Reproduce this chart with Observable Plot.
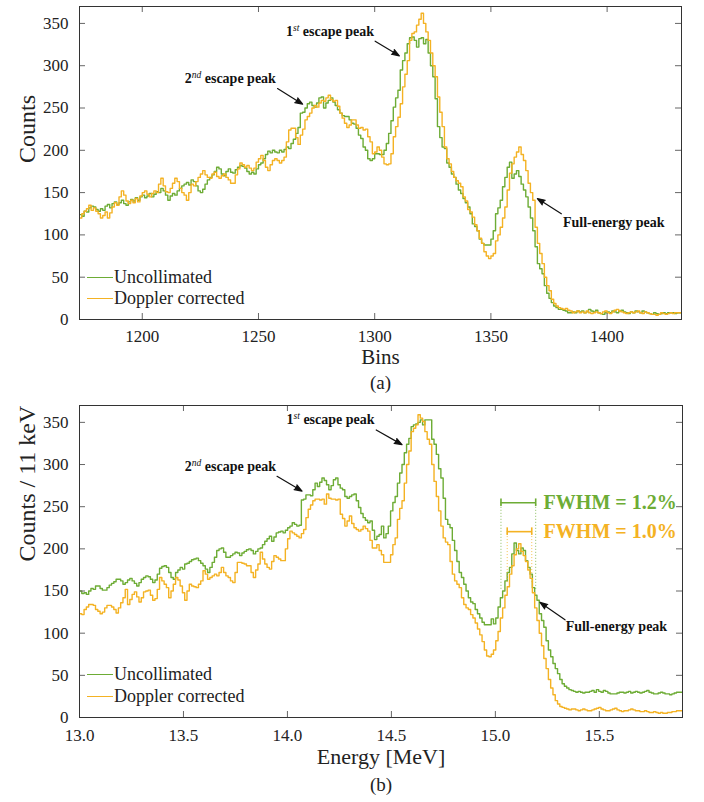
<!DOCTYPE html>
<html><head><meta charset="utf-8">
<script src="https://cdn.jsdelivr.net/npm/d3@7"></script>
<script src="https://cdn.jsdelivr.net/npm/@observablehq/plot@0.6"></script>
<style>
body{margin:0;background:#fff;}
#wrap{position:relative;width:704px;height:802px;font-family:"Liberation Serif","DejaVu Serif",serif;}
.panel{position:absolute;left:0;}
.leg{position:absolute;font-size:18px;color:#222;display:flex;align-items:center;white-space:nowrap;height:22px;line-height:22px;font-family:"Liberation Serif","DejaVu Serif",serif}
.leg .sw{display:inline-block;width:26px;height:0;border-top:1.6px solid;margin-right:1px}
</style></head><body><div id="wrap"></div>
<script>
// ---------- data ----------
const COLOR_UNCOLL = "#6dac35";
const COLOR_DOPP = "#f4b223";
const seriesNames = ["Uncollimated", "Doppler corrected"];

// Panel (a): counts per bin, bins 1173 .. 1431 (width 1)
const binStartA = 1173;
const binWidthA = 1;
const uncollA = [
124,122,128,127,132,134,133,130,128,131,
129,134,136,132,137,139,136,138,141,137,
135,139,142,140,144,141,145,147,144,146,
149,145,148,151,150,155,152,147,141,146,
149,147,152,155,158,160,162,159,165,163,
158,152,150,154,160,165,168,171,175,180,
178,172,170,175,178,174,173,177,180,182,
181,179,175,172,174,172,178,183,185,190,
195,199,197,200,198,197,200,198,201,204,
202,208,213,220,227,244,245,250,255,257,
253,251,256,262,263,250,256,259,262,257,
253,248,244,241,240,240,236,232,231,226,
218,214,204,200,190,188,190,196,196,195,
195,200,208,220,235,251,262,271,295,306,
315,326,333,334,330,322,332,333,326,331,
315,300,287,261,228,215,204,202,185,180,
172,168,160,153,149,143,138,133,125,113,
110,105,95,90,88,88,88,95,105,125,
132,141,157,168,180,186,167,172,176,169,
160,153,145,133,120,105,86,66,60,54,
40,31,25,20,16,14,12,12,11,10,
8,8,9,8,10,9,10,8,9,12,
10,9,11,8,7,6,8,9,8,10,
9,8,10,11,9,8,7,9,8,10,
9,8,10,9,8,7,6,8,7,6,
7,8,7,8,8,8,7,8,8];
const dopplerA = [
120,125,128,131,135,129,132,128,125,120,
123,127,120,126,133,138,135,145,152,147,
140,137,141,138,143,139,146,150,152,148,
145,149,152,150,160,167,158,151,150,155,
161,167,163,155,150,147,141,150,160,158,
163,168,172,176,171,168,167,172,174,169,
167,170,172,168,165,161,161,171,178,185,
183,180,182,179,176,179,186,190,194,188,
180,176,183,188,190,188,185,188,192,210,
224,226,226,215,207,218,225,236,240,244,
250,253,251,256,259,258,262,265,260,258,
259,252,244,238,232,227,230,236,236,230,
226,227,224,225,216,210,196,198,204,200,
192,184,183,184,196,216,228,239,255,275,
290,306,330,338,340,348,355,362,350,340,
330,315,300,287,263,245,228,204,190,184,
175,168,164,161,157,145,140,130,127,121,
112,105,96,90,80,75,72,75,78,93,
100,109,120,133,153,173,184,192,198,204,
195,188,176,161,150,141,109,90,78,66,
50,40,34,24,19,16,14,13,12,13,
11,10,8,9,10,8,9,8,10,8,
7,8,9,8,7,9,10,8,7,9,
11,12,10,9,8,7,8,9,8,9,
10,8,7,9,8,7,6,6,5,6,
8,7,6,7,8,7,8,8,8];
const xTicksA = [1200, 1250, 1300, 1350, 1400];
const yTicks = [0, 50, 100, 150, 200, 250, 300, 350];

// Panel (b): counts per 11 keV bin starting at 13.0 MeV
const binStartB = 13.0;
const binWidthB = 0.011;
const uncollB = [
150,147,148,146,150,153,152,156,156,153,
151,151,154,157,159,161,164,164,162,158,
160,163,165,162,159,156,160,164,166,168,
167,164,160,163,170,177,179,180,178,172,
166,164,172,175,178,176,182,183,185,187,
188,189,186,183,180,176,172,178,184,190,
198,200,201,196,190,190,192,194,196,195,
192,195,197,199,200,198,194,197,200,201,
205,209,212,215,209,214,219,220,221,219,
222,225,227,231,229,227,228,258,259,264,
264,263,270,278,274,279,284,281,276,270,
275,282,284,276,272,270,262,260,262,264,
265,257,249,242,237,234,231,233,222,211,
215,217,227,213,218,227,245,255,262,278,
290,300,314,324,331,345,347,348,350,353,
347,353,353,353,330,324,312,295,284,260,
235,229,225,210,198,185,172,166,158,150,
142,137,135,128,123,118,113,110,110,110,
117,111,118,131,142,150,162,172,178,194,
207,198,194,201,198,186,178,170,154,145,
139,123,115,107,91,80,72,64,58,52,
45,40,37,35,33,32,31,30,31,30,
29,30,30,31,32,30,33,31,30,32,
31,29,28,28,28,29,30,30,29,30,
31,29,30,31,30,29,30,31,32,30,
29,28,28,29,30,29,28,28,27,28,
29,30,30,30];
const dopplerB = [
123,122,128,131,134,134,133,128,126,123,
125,130,133,133,131,128,124,130,136,142,
152,134,140,146,149,143,137,142,149,150,
151,145,139,141,152,166,162,158,154,142,
150,158,166,163,156,148,139,150,158,156,
155,154,158,162,174,170,164,166,168,170,
168,172,178,172,168,166,162,160,172,184,
184,183,182,180,180,172,166,175,182,196,
188,182,178,176,185,192,190,188,186,186,
200,212,221,219,217,215,213,218,223,237,
247,252,257,259,259,258,259,253,265,260,
259,259,258,259,241,236,227,233,239,230,
225,223,221,223,227,224,221,210,201,201,
205,198,193,184,184,184,193,205,213,235,
248,257,278,300,316,339,343,347,359,355,
351,339,330,324,300,280,262,245,227,213,
208,205,185,170,162,158,154,142,134,130,
128,122,118,112,105,98,90,80,73,72,
75,80,91,102,118,130,145,155,170,180,
193,200,206,197,192,185,175,165,148,130,
115,100,85,70,58,45,35,27,20,16,
13,12,11,10,9,10,10,9,8,9,
10,9,8,8,9,10,11,12,10,9,
8,8,9,10,11,9,8,7,8,8,
9,10,9,8,8,7,7,8,7,6,
6,7,6,5,6,5,5,6,6,7,
7,8,8,8];
const xTicksB = [13.0, 13.5, 14.0, 14.5, 15.0, 15.5];

// Annotations (data coordinates)
const peakLabelsA = [
  {text: "1^st escape peak", x: 1299.7, y: 341, x1: 1300.2, y1: 329, x2: 1310.6, y2: 311.7},
  {text: "2^nd escape peak", x: 1257.5, y: 285, x1: 1258.2, y1: 273, x2: 1269, y2: 254.5}
];
const fullLabelA = [{text: "Full-energy peak", x: 1381, y: 115, x1: 1380.3, y1: 125, x2: 1370, y2: 143}];
const peakLabelsB = [
  {text: "1^st escape peak", x: 14.419, y: 353, x1: 14.427, y1: 341, x2: 14.551, y2: 323.6},
  {text: "2^nd escape peak", x: 13.945, y: 298, x1: 13.95, y1: 286, x2: 14.07, y2: 268.5}
];
const fullLabelB = [{text: "Full-energy peak", x: 15.338, y: 108, x1: 15.335, y1: 115.8, x2: 15.215, y2: 136.5}];

// FWHM markers in panel (b)
const fwhmLabels = ["FWHM = 1.2%", "FWHM = 1.0%"];
const fwhmLeft = [15.027, 15.057];
const fwhmRight = [15.194, 15.175];
const fwhmLevel = [254.7, 220.4];
const fwhmDrop = [152, 160];
const fwhmTextX = [15.232, 15.232];

// ---------- helpers ----------
const FONT = "'Liberation Serif', 'DejaVu Serif', 'Times New Roman', serif";
function steps(start, width, vals) {
  const pts = vals.map((v, i) => ({x: start + i * width, y: v}));
  pts.push({x: start + vals.length * width, y: vals[vals.length - 1]});
  return pts;
}
const TXT = "#222";
function frameTicks(xt, yt, plotW, plotH) {
  const tl = 6, tc = "#666";
  return [
    Plot.ruleX(xt, {x: d => d, insetTop: plotH - tl, stroke: tc}),
    Plot.ruleX(xt, {x: d => d, insetBottom: plotH - tl, stroke: tc}),
    Plot.ruleY(yt, {y: d => d, insetRight: plotW - tl, stroke: tc}),
    Plot.ruleY(yt, {y: d => d, insetLeft: plotW - tl, stroke: tc}),
    Plot.frame({stroke: "#333", strokeWidth: 1})
  ];
}
function finish(svg) {
  svg.style.fontFamily = FONT;
  svg.querySelectorAll("text").forEach(t => t.setAttribute("font-family", FONT));
  svg.querySelectorAll('g[aria-label="arrow"] path').forEach(p => p.setAttribute("fill", "#111"));
  svg.querySelectorAll("text").forEach(t => {
    const s = t.textContent;
    const m = s.match(/^(\d)\^(\w+)(.*)$/);
    if (!m) return;
    while (t.firstChild) t.removeChild(t.firstChild);
    const ns = "http://www.w3.org/2000/svg";
    const a = document.createElementNS(ns, "tspan"); a.textContent = m[1];
    const b = document.createElementNS(ns, "tspan"); b.textContent = m[2];
    b.setAttribute("dy", "-5"); b.setAttribute("font-size", "9.5"); b.setAttribute("font-style", "italic"); b.setAttribute("font-weight", "normal");
    const c = document.createElementNS(ns, "tspan"); c.textContent = m[3]; c.setAttribute("dy", "5");
    t.appendChild(a); t.appendChild(b); t.appendChild(c);
  });
}
const annFont = 14;
function annMarks(peaks, full) {
  return [
    Plot.text(peaks, {x: "x", y: "y", text: "text", textAnchor: "end", fontWeight: "bold", fontSize: annFont, fill: "#111"}),
    Plot.text(full, {x: "x", y: "y", text: "text", textAnchor: "start", fontWeight: "bold", fontSize: annFont, fill: "#111"}),
    Plot.arrow(peaks.concat(full), {x1: "x1", y1: "y1", x2: "x2", y2: "y2", stroke: "#111", strokeWidth: 1.2, headLength: 10, headAngle: 40})
  ];
}

const wrap = document.getElementById("wrap");

// ---------- panel (a) ----------
{
  const H = 400, mt = 6, mb = 81, ml = 79, mr = 23;
  const plotW = 704 - ml - mr, plotH = H - mt - mb;
  const chart = Plot.plot({
    width: 704, height: H, marginTop: mt, marginBottom: mb, marginLeft: ml, marginRight: mr,
    style: {fontSize: "17px", color: TXT, background: "white"},
    x: {domain: [1173, 1432], ticks: xTicksA, tickSize: 0, tickPadding: 10, label: null, tickFormat: d3.format("d")},
    y: {domain: [0, 370], ticks: yTicks, tickSize: 0, tickPadding: 11, label: null},
    marks: [
      Plot.line(steps(binStartA, binWidthA, uncollA), {x: "x", y: "y", curve: "step-after", stroke: COLOR_UNCOLL, strokeWidth: 1.4, clip: true}),
      Plot.line(steps(binStartA, binWidthA, dopplerA), {x: "x", y: "y", curve: "step-after", stroke: COLOR_DOPP, strokeWidth: 1.4, clip: true}),
      ...frameTicks(xTicksA, yTicks, plotW, plotH),
      ...annMarks(peakLabelsA, fullLabelA),
      Plot.text(["Bins"], {text: d => d, frameAnchor: "bottom", dy: 44, fontSize: 21, fill: TXT}),
      Plot.text(["(a)"], {text: d => d, frameAnchor: "bottom", dy: 69, fontSize: 19, fill: TXT}),
      Plot.text(["Counts"], {text: d => d, frameAnchor: "left", dx: -52, rotate: -90, fontSize: 24, fill: TXT})
    ]
  });
  finish(chart);
  chart.classList.add("panel");
  chart.style.top = "0px";
  wrap.appendChild(chart);
}

// ---------- panel (b) ----------
{
  const H = 402, mt = 5, mb = 85, ml = 79, mr = 22;
  const plotW = 704 - ml - mr, plotH = H - mt - mb;
  const fw = fwhmLabels.map((label, i) => ({label, x1: fwhmLeft[i], x2: fwhmRight[i], y: fwhmLevel[i], ylow: fwhmDrop[i], tx: fwhmTextX[i], series: seriesNames[i]}));
  const col = d => d.series === seriesNames[0] ? COLOR_UNCOLL : COLOR_DOPP;
  const chart = Plot.plot({
    width: 704, height: H, marginTop: mt, marginBottom: mb, marginLeft: ml, marginRight: mr,
    style: {fontSize: "17px", color: TXT, background: "white"},
    x: {domain: [13.0, 15.9], ticks: xTicksB, tickSize: 0, tickPadding: 11, label: null, tickFormat: d3.format(".1f")},
    y: {domain: [0, 370], ticks: yTicks, tickSize: 0, tickPadding: 11, label: null},
    color: {type: "identity"},
    marks: [
      Plot.line(steps(binStartB, binWidthB, uncollB), {x: "x", y: "y", curve: "step-after", stroke: COLOR_UNCOLL, strokeWidth: 1.4, clip: true}),
      Plot.line(steps(binStartB, binWidthB, dopplerB), {x: "x", y: "y", curve: "step-after", stroke: COLOR_DOPP, strokeWidth: 1.4, clip: true}),
      ...frameTicks(xTicksB, yTicks, plotW, plotH),
      // FWHM markers
      Plot.ruleX(fw, {x: "x1", y1: "ylow", y2: "y", stroke: col, strokeWidth: 0.8, strokeDasharray: "1,2"}),
      Plot.ruleX(fw, {x: "x2", y1: "ylow", y2: "y", stroke: col, strokeWidth: 0.8, strokeDasharray: "1,2"}),
      Plot.ruleY(fw, {y: "y", x1: "x1", x2: "x2", stroke: col, strokeWidth: 1.6}),
      Plot.ruleX(fw, {x: "x1", y1: d => d.y - 4.5, y2: d => d.y + 4.5, stroke: col, strokeWidth: 1.6}),
      Plot.ruleX(fw, {x: "x2", y1: d => d.y - 4.5, y2: d => d.y + 4.5, stroke: col, strokeWidth: 1.6}),
      Plot.text(fw, {x: "tx", y: "y", text: "label", textAnchor: "start", fill: col, fontWeight: "bold", fontSize: 20}),
      ...annMarks(peakLabelsB, fullLabelB),
      Plot.text(["Energy [MeV]"], {text: d => d, frameAnchor: "bottom", dy: 46, fontSize: 22, fill: TXT}),
      Plot.text(["(b)"], {text: d => d, frameAnchor: "bottom", dy: 73, fontSize: 19, fill: TXT}),
      Plot.text(["Counts / 11 keV"], {text: d => d, frameAnchor: "left", dx: -52, rotate: -90, fontSize: 24, fill: TXT})
    ]
  });
  finish(chart);
  chart.classList.add("panel");
  chart.style.top = "400px";
  wrap.appendChild(chart);
}

// ---------- legends ----------
function legend(top, name, color) {
  const d = document.createElement("div");
  d.className = "leg";
  d.style.left = "87px";
  d.style.top = top + "px";
  const sw = document.createElement("span");
  sw.className = "sw"; sw.style.borderColor = color;
  d.appendChild(sw);
  d.appendChild(document.createTextNode(name));
  wrap.appendChild(d);
}
legend(266, seriesNames[0], COLOR_UNCOLL);
legend(287, seriesNames[1], COLOR_DOPP);
legend(663, seriesNames[0], COLOR_UNCOLL);
legend(685, seriesNames[1], COLOR_DOPP);
</script></body></html>
